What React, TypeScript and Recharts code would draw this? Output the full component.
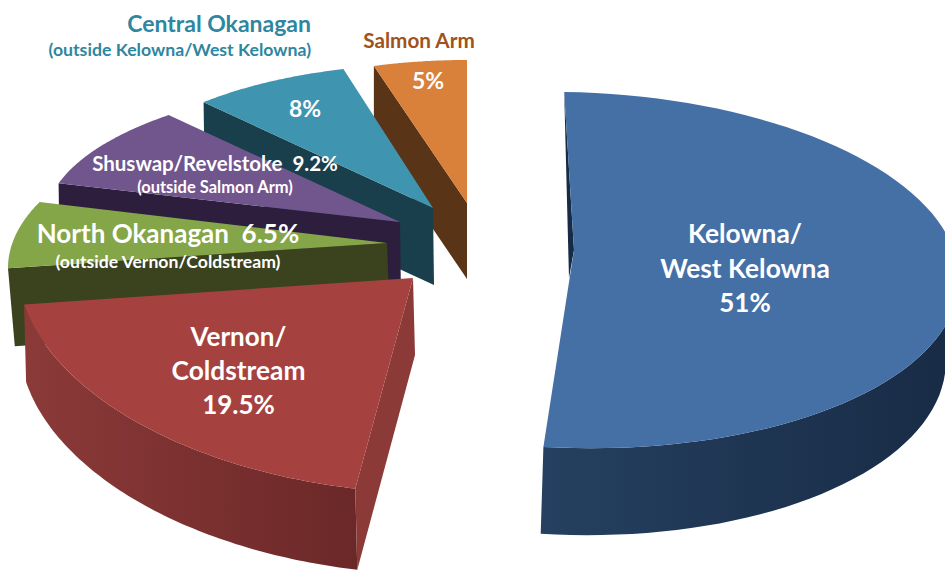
import { PieChart, Pie } from 'recharts';

const REGIONS = ['Salmon Arm', 'Central Okanagan', 'Shuswap/Revelstoke', 'North Okanagan', 'Vernon/Coldstream', 'Kelowna/West Kelowna'];
const SHARES = [5, 8, 9.2, 6.5, 19.5, 51];
const pieData = REGIONS.map((name, i) => ({ name, value: SHARES[i] }));

const W = 945;
const H = 570;
const CX = 480;
const CY = 300;
const FONT = 'Lato, "Open Sans", sans-serif';

// the source is a perspective 3D pie, every wedge gets its own squashed ellipse
const WEDGE: Record<string, any> = {
  'Salmon Arm': { ox: -13, oy: -97, rx: 299, ry: 120, rot: -2, sy: -23, top: '#D9803A', wall: '#5A3416', ex: 0, ey: 76 },
  'Central Okanagan': { ox: -47, oy: -92, rx: 324, ry: 130, rot: -4.1, sy: -14, top: '#3F94AF', wall: '#193F4C', ex: 1, ey: 77 },
  'Shuswap/Revelstoke': { ox: -80, oy: -78, rx: 355, ry: 141, rot: -8.5, top: '#71558D', wall: '#2C1E3C', ex: 1, ey: 77 },
  'North Okanagan': { ox: -93, oy: -57, rx: 379, ry: 165, rot: -16.1, sy: 25, top: '#84A548', wall: '#3A431E', ex: 3, ey: 78, lx: 0.99 },
  'Vernon/Coldstream': { ox: -67, oy: -22, rx: 396, ry: 215, rot: -5.3, shear: 0.036, top: '#A5423F', wall: '#8B3A38', ex: 2, ey: 77, ly: 1.02, rim: ['#8B3A38', '#6B2828'] },
  'Kelowna/West Kelowna': { ox: 94, oy: -50, rx: 388, ry: 178, rot: -1, sx: -3, sy: 20, shear: 0.024, top: '#4570A6', wall: '#172B45', ex: -3.5, ey: 81, lx: 0.975, ly: 1.03, rim: ['#254060', '#182B45'], wallApex: [-5, 28], wallRim: [0, 0] },
};

const rad = Math.PI / 180;

function rimPoint(g: any, deg: number) {
  const t = (deg + g.rot) * rad;
  const c = g.rx * Math.cos(t);
  return [c + (g.sx || 0), -g.ry * Math.sin(t) + (g.sy || 0) + (g.shear || 0) * c];
}

function ThreeDWedge(props: any) {
  const { cx, cy, startAngle, endAngle, payload, name } = props;
  const key = payload?.name ?? name;
  const g = WEDGE[key];
  const ax = cx + g.ox;
  const ay = cy + g.oy;
  const lx = g.lx ?? 1;
  const ly = g.ly ?? 1;
  const steps = 80;
  const upper: number[][] = [];
  const rimTop: number[][] = [];
  const rimBottom: number[][] = [];
  let lowerEnd = [0, 0];
  for (let i = 0; i <= steps; i++) {
    const deg = startAngle + ((endAngle - startAngle) * i) / steps;
    const [x, y] = rimPoint(g, deg);
    const up = [ax + x, ay + y];
    const low = [ax + g.ex + x * lx, ay + g.ey + y * ly];
    upper.push(up);
    lowerEnd = low;
    // only the front half of the rim can be seen
    if (Math.sin((deg + g.rot) * rad) <= 0.02) {
      rimTop.push(up);
      rimBottom.push(low);
    }
  }
  const pts = (list: number[][]) => list.map((p) => p[0].toFixed(1) + ',' + p[1].toFixed(1)).join(' ');
  const rimEnd = upper[steps];
  const wa = g.wallApex ?? [g.ex, g.ey];
  const wallPts = g.wallRim
    ? [rimEnd, [ax, ay], [ax + wa[0], ay + wa[1]]]
    : [rimEnd, [ax, ay], [ax + wa[0], ay + wa[1]], lowerEnd];
  const gradId = 'rim' + key.slice(0, 3);
  return (
    <g>
      {g.rim && (
        <>
          <defs>
            <linearGradient id={gradId} x1="0" y1="0" x2="1" y2="0">
              <stop offset="0%" stopColor={g.rim[0]} />
              <stop offset="100%" stopColor={g.rim[1]} />
            </linearGradient>
          </defs>
          <polygon points={pts([...rimTop, ...[...rimBottom].reverse()])} fill={`url(#${gradId})`} />
        </>
      )}
      <polygon points={pts(wallPts)} fill={g.wall} />
      <polygon points={pts([[ax, ay], ...upper])} fill={g.top} />
    </g>
  );
}

const LABELS = [
  { region: 'Central Okanagan', text: 'Central Okanagan', x: 311, y: 32, size: 23, fill: '#2E86A0', anchor: 'end' },
  { region: 'Central Okanagan', text: '(outside Kelowna/West Kelowna)', x: 311, y: 56, size: 17.7, fill: '#2E86A0', anchor: 'end' },
  { region: 'Salmon Arm', text: 'Salmon Arm', x: 419, y: 48, size: 20.7, fill: '#A0521A' },
  { region: 'Salmon Arm', text: '5%', x: 428, y: 89, size: 23, fill: '#fff' },
  { region: 'Central Okanagan', text: '8%', x: 305, y: 117, size: 23, fill: '#fff' },
  { region: 'Shuswap/Revelstoke', text: 'Shuswap/Revelstoke  9.2%', x: 215, y: 171, size: 20.5, fill: '#fff' },
  { region: 'Shuswap/Revelstoke', text: '(outside Salmon Arm)', x: 215, y: 193, size: 16.5, fill: '#fff' },
  { region: 'North Okanagan', text: 'North Okanagan  6.5%', x: 168, y: 243, size: 26, fill: '#fff' },
  { region: 'North Okanagan', text: '(outside Vernon/Coldstream)', x: 168, y: 268, size: 17.6, fill: '#fff' },
  { region: 'Vernon/Coldstream', text: 'Vernon/', x: 238.5, y: 346, size: 26, fill: '#fff' },
  { region: 'Vernon/Coldstream', text: 'Coldstream', x: 238.5, y: 380, size: 26.3, fill: '#fff' },
  { region: 'Vernon/Coldstream', text: '19.5%', x: 238.5, y: 414, size: 26, fill: '#fff' },
  { region: 'Kelowna/West Kelowna', text: 'Kelowna/', x: 745, y: 243, size: 26.3, fill: '#fff' },
  { region: 'Kelowna/West Kelowna', text: 'West Kelowna', x: 745, y: 278, size: 26.3, fill: '#fff' },
  { region: 'Kelowna/West Kelowna', text: '51%', x: 745, y: 312, size: 26, fill: '#fff' },
];

function regionLabel(props: any) {
  const key = props.payload?.name ?? props.name;
  return (
    <g>
      {LABELS.filter((l) => l.region === key).map((l) => (
        <text
          key={l.text}
          x={l.x}
          y={l.y}
          fontFamily={FONT}
          fontWeight={700}
          fontSize={l.size}
          fill={l.fill}
          textAnchor={(l.anchor as any) || 'middle'}
          style={{ whiteSpace: 'pre' }}
        >
          {l.text}
        </text>
      ))}
    </g>
  );
}

export default function App() {
  return (
    <div style={{ position: 'absolute', left: 0, top: 0, width: W, height: H, background: '#fff' }}>
      <PieChart width={W} height={H} margin={{ top: 0, right: 0, bottom: 0, left: 0 }}>
        <Pie
          data={pieData}
          dataKey="value"
          nameKey="name"
          cx={CX}
          cy={CY}
          outerRadius={200}
          startAngle={92}
          endAngle={452}
          stroke="none"
          isAnimationActive={false}
          shape={ThreeDWedge}
          label={regionLabel}
          labelLine={false}
        />
      </PieChart>
    </div>
  );
}
